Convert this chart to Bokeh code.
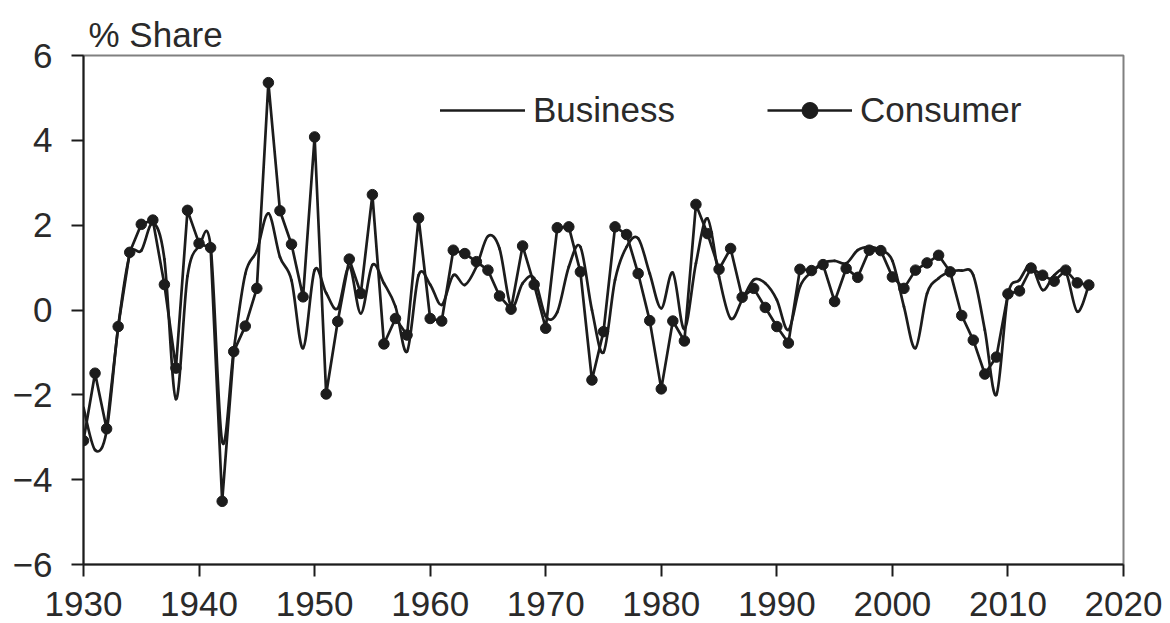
import numpy as np
from bokeh.plotting import figure
from bokeh.models import Range1d, Legend, LegendItem, Title, ColumnDataSource
from bokeh.embed import file_html
from bokeh.resources import INLINE

years = list(range(1930, 2018))

consumer = [-3.08, -1.49, -2.80, -0.39, 1.36, 2.02, 2.12, 0.60, -1.37, 2.35,
            1.57, 1.47, -4.51, -0.98, -0.38, 0.51, 5.36, 2.34, 1.55, 0.31,
            4.08, -1.98, -0.27, 1.20, 0.39, 2.72, -0.80, -0.20, -0.59, 2.17,
            -0.20, -0.26, 1.41, 1.33, 1.14, 0.94, 0.33, 0.02, 1.51, 0.60,
            -0.43, 1.94, 1.96, 0.90, -1.65, -0.51, 1.96, 1.78, 0.86, -0.25,
            -1.86, -0.26, -0.73, 2.49, 1.80, 0.96, 1.45, 0.30, 0.51, 0.06,
            -0.39, -0.78, 0.96, 0.93, 1.07, 0.20, 0.98, 0.77, 1.41, 1.40,
            0.78, 0.51, 0.94, 1.11, 1.29, 0.90, -0.13, -0.71, -1.51, -1.11,
            0.38, 0.45, 0.99, 0.82, 0.68, 0.94, 0.64, 0.59]

business = [-2.30, -3.30, -2.85, -0.40, 1.30, 1.40, 2.05, 1.20, -2.10, 0.80,
            1.50, 1.50, -3.10, -0.95, 0.85, 1.40, 2.28, 1.25, 0.70, -0.90,
            0.94, 0.40, 0.04, 1.02, -0.08, 1.06, 0.63, 0.08, -0.98, 0.82,
            0.60, 0.12, 0.82, 0.59, 1.02, 1.74, 1.45, 0.08, 0.63, 0.75,
            -0.15, -0.05, 1.02, 1.49, 0.00, -1.00, 0.71, 1.49, 1.69, 0.86,
            0.04, 0.88, -0.45, 1.10, 2.16, 0.78, -0.20, 0.24, 0.71, 0.63,
            0.24, -0.47, 0.55, 0.90, 1.11, 1.16, 1.10, 1.41, 1.49, 1.41,
            1.16, 0.08, -0.90, 0.39, 0.75, 0.90, 0.93, 0.82, -0.47, -2.00,
            0.35, 0.71, 1.06, 0.47, 0.82, 0.90, -0.04, 0.59]

x_ticks = [1930, 1940, 1950, 1960, 1970, 1980, 1990, 2000, 2010, 2020]
y_ticks = [-6, -4, -2, 0, 2, 4, 6]
y_tick_labels = {-6: "\u22126", -4: "\u22124", -2: "\u22122", 0: "0", 2: "2", 4: "4", 6: "6"}

FONT = "Liberation Sans"
INK = "#1c1c1c"
TEXT = "#2a2a2a"

p = figure(width=1170, height=623, x_range=Range1d(1930, 2020), y_range=Range1d(-6, 6),
           output_backend="svg", toolbar_location=None,
           min_border_left=83, min_border_right=47, min_border_top=55, min_border_bottom=59)
p.background_fill_color = "white"
p.border_fill_color = "white"
p.outline_line_color = "#808080"
p.outline_line_width = 2
p.grid.visible = False

for ax in (p.xaxis, p.yaxis):
    ax.axis_line_color = INK
    ax.axis_line_width = 2
    ax.major_tick_line_color = INK
    ax.major_tick_line_width = 2
    ax.major_tick_out = 12
    ax.major_tick_in = 0
    ax.minor_tick_line_color = None
    ax.major_label_text_font = FONT
    ax.major_label_text_font_size = "35px"
    ax.major_label_text_color = TEXT

p.xaxis.ticker = x_ticks
p.xaxis.major_label_standoff = 15
p.yaxis.ticker = y_ticks
p.yaxis.major_label_overrides = y_tick_labels
p.yaxis.major_label_standoff = 19

# smooth business curve: cubic Bezier segments through the annual points
xa = np.array(years, dtype=float)
ya = np.array(business, dtype=float)
n = len(xa)
i = np.arange(n - 1)
im1 = np.maximum(i - 1, 0)
ip2 = np.minimum(i + 2, n - 1)
bsrc = ColumnDataSource(dict(
    x0=xa[i], y0=ya[i], x1=xa[i + 1], y1=ya[i + 1],
    cx0=xa[i] + (xa[i + 1] - xa[im1]) / 6.0, cy0=ya[i] + (ya[i + 1] - ya[im1]) / 6.0,
    cx1=xa[i + 1] - (xa[ip2] - xa[i]) / 6.0, cy1=ya[i + 1] - (ya[ip2] - ya[i]) / 6.0,
))
bz = p.bezier(x0="x0", y0="y0", x1="x1", y1="y1", cx0="cx0", cy0="cy0", cx1="cx1", cy1="cy1",
              source=bsrc, line_color=INK, line_width=2.7, line_cap="round")

csrc = ColumnDataSource(dict(x=years, y=consumer))
cl = p.line("x", "y", source=csrc, line_color=INK, line_width=2.7, line_join="round")
cs = p.scatter("x", "y", source=csrc, size=10.5, fill_color=INK, line_color=INK)

legend = Legend(items=[LegendItem(label="Business", renderers=[bz]),
                       LegendItem(label="Consumer", renderers=[cl, cs])],
                orientation="horizontal", location=(357, 434),
                glyph_width=85, glyph_height=40, label_standoff=8, spacing=92,
                padding=0, margin=0, border_line_color=None, background_fill_alpha=0,
                label_text_font=FONT, label_text_font_size="35px", label_text_color=TEXT)
p.add_layout(legend)

title = Title(text="% Share", align="left", offset=5, standoff=4,
              text_font=FONT, text_font_size="35px", text_font_style="normal",
              text_color=TEXT)
p.add_layout(title, "above")

open("out.html", "w").write(file_html(p, INLINE))
